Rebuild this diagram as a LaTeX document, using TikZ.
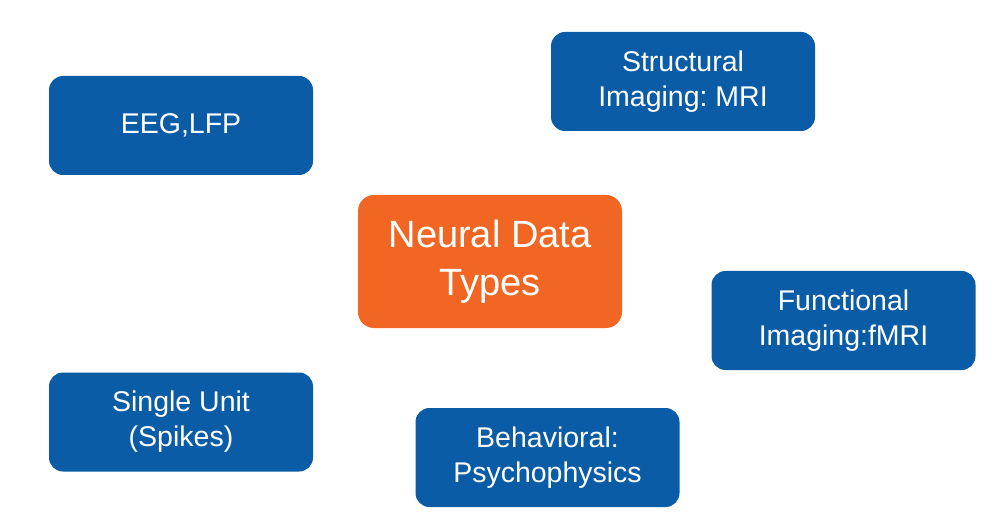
\documentclass[tikz,border=0pt]{standalone}
\usepackage{fontspec}
\setmainfont{Liberation Sans}
\frenchspacing
\definecolor{boxblue}{HTML}{0B5CA6}
\definecolor{boxorange}{HTML}{F26624}
\begin{document}
\begin{tikzpicture}[x=1pt,y=-1pt,
  bluebox/.style={fill=boxblue, draw=none, rounded corners=14pt, minimum width=264pt, minimum height=99pt, inner sep=0pt, text=white, align=center, font=\fontsize{28.5}{35}\selectfont},
  centerbox/.style={fill=boxorange, draw=none, rounded corners=16pt, minimum width=264pt, minimum height=133pt, inner sep=0pt, text=white, align=center, font=\fontsize{38}{48}\selectfont}]
\useasboundingbox (0,0) rectangle (1000,526);
\node[bluebox] (eeg) at (181,125.5) {EEG,LFP};
\node[bluebox] (mri) at (683,81.5) {Structural\\Imaging: MRI};
\node[centerbox] (ndt) at (490,261.5) {Neural Data\\Types};
\node[bluebox] (fmri) at (843.5,320.5) {Functional\\Imaging:fMRI};
\node[bluebox] (spk) at (181,422) {Single Unit\\(Spikes)};
\node[bluebox] (beh) at (547.5,457.5) {Behavioral:\\Psychophysics};
\end{tikzpicture}
\end{document}
